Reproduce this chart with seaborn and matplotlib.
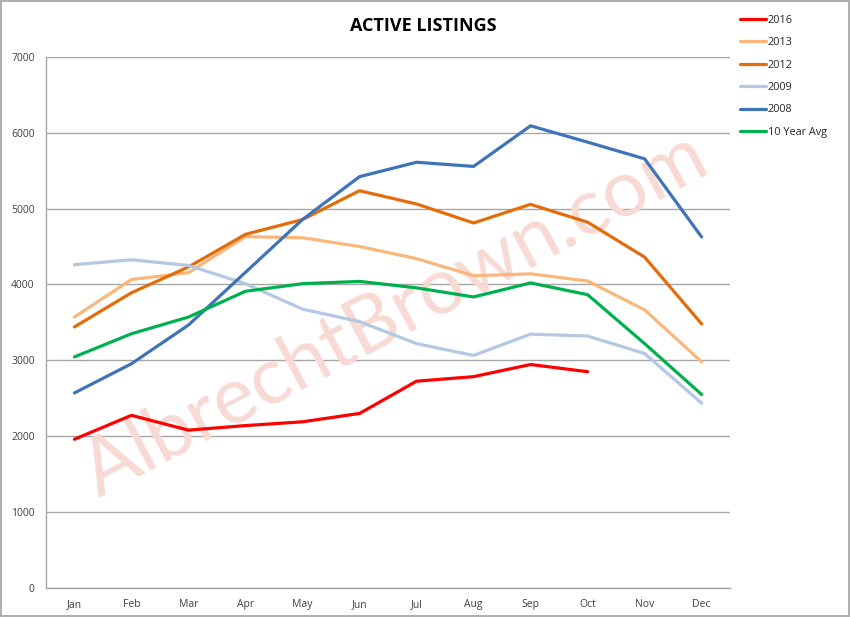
import pandas as pd
import matplotlib.pyplot as plt
import seaborn as sns

# monthly active listings
months = ['Jan', 'Feb', 'Mar', 'Apr', 'May', 'Jun', 'Jul', 'Aug', 'Sep', 'Oct', 'Nov', 'Dec']
y2016 = [1960, 2275, 2080, 2140, 2190, 2300, 2725, 2785, 2945, 2850]
y2013 = [3570, 4065, 4155, 4630, 4615, 4500, 4340, 4115, 4140, 4045, 3665, 2980]
y2012 = [3440, 3890, 4230, 4660, 4855, 5235, 5060, 4810, 5055, 4820, 4360, 3480]
y2009 = [4260, 4325, 4250, 4010, 3675, 3510, 3220, 3065, 3345, 3320, 3090, 2435]
y2008 = [2570, 2955, 3465, 4160, 4855, 5420, 5610, 5555, 6090, 5875, 5655, 4625]
avg10 = [3045, 3350, 3570, 3910, 4010, 4040, 3955, 3835, 4020, 3865, 3220, 2550]

series = {'2016': y2016, '2013': y2013, '2012': y2012,
          '2009': y2009, '2008': y2008, '10 Year Avg': avg10}
colors = {'2016': '#ff0000', '2013': '#fab77c', '2012': '#e46c0a',
          '2009': '#b4c8e4', '2008': '#3f74b8', '10 Year Avg': '#00b04f'}

rows = []
for name, vals in series.items():
    for m, v in zip(months, vals):
        rows.append({'Month': m, 'Listings': v, 'Series': name})
df = pd.DataFrame(rows)

sns.set_style('white')
plt.rcParams['font.family'] = ['Open Sans', 'DejaVu Sans']

fig = plt.figure(figsize=(8.5, 6.17), dpi=100, linewidth=1.5, edgecolor='#b0b0b0')
ax = fig.add_axes([0.054, 0.047, 0.805, 0.861])

sns.lineplot(data=df, x='Month', y='Listings', hue='Series',
             hue_order=list(series.keys()), palette=colors,
             linewidth=2.3, sort=False, ax=ax, zorder=3)

# watermark (under the lines)
ax.text(0.51, 0.515, 'AlbrechtBrown.com', transform=ax.transAxes,
        fontsize=57, color='#f8dad5', rotation=28,
        ha='center', va='center', family=['Lato', 'DejaVu Sans'], zorder=1)

ax.set_ylim(0, 7000)
ax.set_xlim(-0.5, 11.5)
ax.set_yticks(range(0, 7001, 1000))
ax.yaxis.grid(True, color='#a6a6a6', linewidth=1)
ax.set_axisbelow(True)
ax.set_xlabel('')
ax.set_ylabel('')
ax.tick_params(axis='both', length=0, labelsize=7.5, colors='#404040', pad=8)
for s in ['top', 'right']:
    ax.spines[s].set_visible(False)
for s in ['left', 'bottom']:
    ax.spines[s].set_color('#a6a6a6')
    ax.spines[s].set_linewidth(1)

fig.text(0.498, 0.958, 'ACTIVE LISTINGS', fontsize=13, fontweight='bold',
         ha='center', va='center', color='black')

leg = ax.legend(loc='upper left', bbox_to_anchor=(0.865, 0.983),
                bbox_transform=fig.transFigure, frameon=False,
                fontsize=7.8, handlelength=2.4, handletextpad=0.2,
                labelspacing=1.05, borderaxespad=0)
for line in leg.get_lines():
    line.set_linewidth(2.3)

fig.savefig('out.png', dpi=100)
